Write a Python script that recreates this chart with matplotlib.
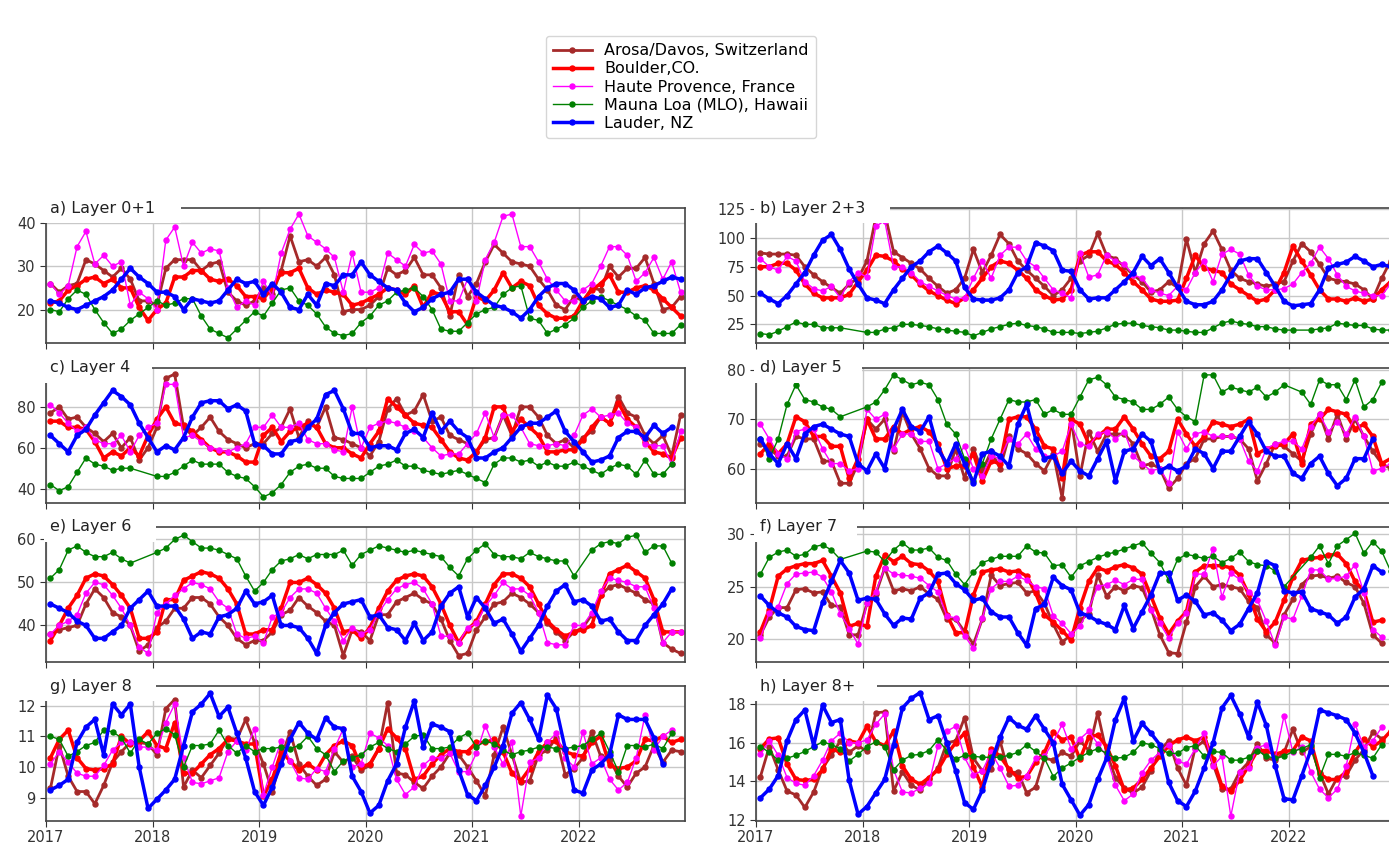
import numpy as np
import matplotlib.pyplot as plt
from matplotlib.patches import Rectangle

nan = np.nan

# monthly means, Jan 2017 .. Dec 2022, plotted at mid-month
months = np.arange(72)
dates = 2017 + (months + 0.5) / 12
years = [2017, 2018, 2019, 2020, 2021, 2022]

stations = ["Arosa/Davos, Switzerland", "Boulder,CO.", "Haute Provence, France",
            "Mauna Loa (MLO), Hawaii", "Lauder, NZ"]

# ---- a) Layer 0+1
arosa_a = [26, 24, 25.5, 26, 31.5, 30.5, 29, 27.5, 29.5, 27, 22, 22,
           21, 29.5, 31.5, 31.5, 31.5, 29, 30.5, 31, 24, 22, 21, 22,
           25, 23.5, 29, 37, 31, 31.5, 30, 32, 28, 19.5, 20, 20,
           21, 23, 29.5, 28, 29, 32, 28, 28, 25, 18.5, 28, 23,
           26, 31, 35, 33, 31, 30.5, 30, 27, 24.5, 21, 20, 23,
           22, 25, 24.5, 30, 27.5, 29.5, 29.5, 32, 26, 20, 20.5, 23]
boulder_a = [21.5, 22, 24.5, 25.5, 27, 27.5, 26, 27, 25, 25, 20.5, 17.5,
             20, 21.5, 27.5, 27.5, 29, 29, 27, 26.5, 27, 25.5, 23, 23,
             22.5, 25, 28.5, 28.5, 29.5, 25, 23.5, 24.5, 24, 23.5, 21, 21.5,
             22.5, 23.5, 25, 24.5, 23.5, 25.5, 20.5, 24, 23.5, 19.5, 19.5, 16.5,
             23, 22, 24.5, 28.5, 25, 26.5, 25.5, 21, 19, 18, 18, 18.5,
             22, 24.5, 26, 28, 24, 24, 25, 25.5, 24.5, 22.5, 20.5, 18.5]
haute_a = [26, 23.5, 25.5, 34.5, 38, 30.5, 32.5, 30, 31, 21, 24, 22.5,
           20, 36, 39, 30, 35.5, 33, 34, 33.5, 25, 20.5, 22, 21,
           26.5, 23, 33, 38.5, 42, 37, 35.5, 34, 32, 24, 33, 24,
           24, 25, 33, 31.5, 30, 35, 33, 33.5, 30.5, 22, 22, 27,
           22, 31.5, 35.5, 41.5, 42, 34.5, 34.5, 31, 27, 24.5, 22, 22,
           24.5, 26, 30, 34.5, 34.5, 32.5, 26.5, 28.5, 32, 27, 31, 24]
mlo_a = [20, 19.5, 22.5, 24.5, 23.5, 20, 17, 14.5, 15.5, 17.5, 19, 20.5,
         22, 21, 21.5, 22.5, 22.5, 18.5, 15.5, 14.5, 13.5, 15.5, 17.5, 19.5,
         18.5, 21.5, 24.5, 25, 22, 21, 19, 16, 14.5, 14, 14.5, 17,
         18.5, 21, 22, 24, 24.5, 25, 23, 20, 15.5, 15, 15, 17,
         19, 20, 20.5, 23.5, 25, 25.5, 18, 17.5, 14.5, 15.5, 16.5, 18,
         20.5, 22, 23, 22, 21, 20, 18.5, 17.5, 14.5, 14.5, 14.5, 16.5]
lauder_a = [22, 21.5, 20.5, 20, 21, 22, 23, 24.5, 27, 29.5, 27.5, 26,
            24, 24, 23, 20, 22.5, 22, 21.5, 22, 24.5, 27, 26, 26.5,
            23.5, 26, 24, 20.5, 20, 23.5, 21, 26, 25.5, 28, 28, 31,
            28, 26.5, 25, 24.5, 21.5, 19.5, 20.5, 22.5, 23.5, 24, 27, 27,
            24, 22.5, 21, 20.5, 19.5, 18, 20, 23, 25, 26, 26, 24.5,
            22, 23, 22.5, 20.5, 21, 24.5, 23.5, 25, 25.5, 26.5, 27.5, 27]

# ---- b) Layer 2+3
arosa_b = [87, 86, 86, 86, 85, 75, 68, 62, 57, 52, 60, 65,
           80, 118, 122, 88, 83, 78, 73, 65, 58, 52, 55, 65,
           90, 70, 85, 103, 95, 80, 72, 65, 58, 50, 55, 65,
           80, 85, 104, 85, 82, 75, 68, 62, 53, 55, 62, 57,
           99, 70, 95, 106, 90, 72, 65, 62, 60, 58, 60, 62,
           80, 95, 88, 77, 65, 63, 62, 60, 55, 47, 65, 80]
boulder_b = [75, 75, 78, 78, 72, 60, 52, 48, 48, 48, 51, 62,
             72, 85, 84, 80, 73, 68, 60, 54, 50, 46, 43, 48,
             55, 65, 75, 80, 78, 72, 65, 55, 50, 46, 47, 55,
             85, 88, 88, 80, 77, 70, 62, 55, 47, 45, 45, 46,
             65, 85, 74, 72, 70, 60, 55, 50, 45, 47, 55, 70,
             93, 80, 68, 55, 47, 47, 45, 48, 45, 47, 55, 62]
haute_b = [82, 75, 72, 84, 80, 62, 56, 54, 58, 48, 62, 70,
           66, 110, 115, 75, 75, 70, 62, 58, 54, 50, 47, 48,
           65, 80, 65, 85, 92, 92, 80, 75, 65, 55, 52, 48,
           87, 66, 68, 85, 80, 77, 68, 65, 55, 52, 50, 58,
           55, 70, 80, 62, 86, 90, 86, 68, 58, 55, 55, 56,
           60, 70, 78, 92, 82, 68, 58, 54, 52, 50, 50, 60]
mlo_b = [17, 16, 19, 23, 27, 25, 25, 22, 22, 22, nan, nan,
         18, 18, 21, 22, 25, 25, 24, 23, 21, 20, 19, 18,
         15, 18, 21, 23, 25, 26, 24, 23, 21, 18, 18, 18,
         17, 18, 19, 22, 25, 26, 26, 24, 23, 22, 20, 20,
         19, 18, 18, 22, 26, 28, 26, 25, 23, 23, 21, 20,
         20, nan, 20, 21, 22, 26, 25, 24, 24, 21, 20, 20]
lauder_b = [52, 47, 43, 50, 60, 70, 85, 98, 103, 90, 73, 60,
            48, 46, 43, 55, 65, 75, 80, 88, 93, 87, 80, 57,
            47, 46, 46, 48, 55, 70, 75, 96, 93, 89, 72, 71,
            55, 47, 48, 48, 55, 62, 70, 84, 76, 82, 70, 57,
            45, 42, 42, 45, 55, 68, 80, 82, 82, 70, 58, 45,
            41, 42, 43, 55, 74, 77, 79, 84, 80, 75, 77, 75]

# ---- c) Layer 4
arosa_c = [77, 80, 74, 75, 70, 67, 63, 67, 60, 65, 54, 60,
           70, 94, 96, 70, 66, 70, 75, 68, 64, 62, 60, 62,
           62, 67, 70, 79, 65, 73, 70, 80, 65, 64, 62, 60,
           56, 63, 79, 84, 76, 78, 86, 73, 75, 66, 64, 62,
           58, 64, 65, 76, 66, 80, 80, 75, 66, 62, 64, 60,
           65, 68, 75, 72, 85, 77, 75, 66, 62, 66, 56, 76]
boulder_c = [73, 73, 70, 70, 69, 63, 55, 58, 56, 60, 56, 66,
             74, 80, 72, 71, 68, 64, 60, 58, 58, 56, 53, 53,
             66, 70, 63, 68, 70, 72, 70, 62, 60, 60, 57, 55,
             62, 68, 84, 80, 76, 72, 71, 70, 64, 58, 55, 54,
             58, 65, 80, 80, 68, 74, 70, 66, 58, 58, 59, 59,
             64, 70, 75, 72, 82, 74, 70, 63, 58, 57, 55, 65]
haute_c = [81, 77, 72, 68, 70, 64, 62, 62, 66, 58, 66, 70,
           72, 91, 91, 65, 66, 63, 60, 59, 58, 60, 62, 70,
           70, 76, 70, 70, 72, 64, 62, 62, 59, 58, 80, 60,
           70, 72, 73, 72, 70, 68, 65, 60, 56, 57, 57, 62,
           67, 77, 65, 76, 76, 70, 62, 61, 61, 62, 61, 66,
           76, 79, 75, 76, 77, 72, 70, 62, 61, 61, 52, 68]
mlo_c = [42, 39, 41, 48, 55, 52, 51, 49, 50, 50, nan, nan,
         46, 46, 48, 51, 54, 52, 52, 52, 48, 46, 45, 41,
         36, 38, 42, 48, 51, 52, 50, 50, 46, 45, 45, 45,
         48, 51, 52, 54, 51, 51, 49, 48, 47, 48, 49, 47,
         45, 43, 52, 55, 55, 53, 54, 51, 53, 51, 51, 53,
         51, 49, 47, 50, 52, 51, 47, 54, 47, 47, 52, nan]
lauder_c = [66, 62, 58, 66, 69, 76, 82, 88, 85, 81, 72, 65,
            58, 61, 59, 65, 75, 82, 83, 83, 79, 81, 78, 62,
            61, 57, 57, 63, 64, 70, 74, 86, 88, 79, 67, 67,
            60, 61, 61, 59, 67, 69, 65, 77, 68, 73, 68, 65,
            55, 55, 58, 60, 65, 70, 72, 72, 75, 78, 68, 63,
            58, 53, 54, 56, 65, 68, 68, 65, 71, 67, 70, nan]

# ---- d) Layer 5
arosa_d = [65, 64, 62.5, 62.5, 66.5, 66, 66, 61.5, 61.5, 57, 57, 61,
           70, 68, 70, 63.5, 71.5, 67, 64, 60, 58.5, 58.5, 64, 58,
           64, 59.5, 63.5, 60, 66.5, 64, 63, 61, 59.5, 63, 54, 70,
           58.5, 67.5, 63.5, 67, 67, 67, 65, 60.5, 61, 60, 56, 58,
           61, 62, 66, 66, 66.5, 66.5, 66, 64, 57.5, 61, 65, 64.5,
           63, 61.5, 67, 71, 66, 71, 66, 70, 66.5, 63.5, 61, 60]
boulder_d = [63, 65, 63, 65, 70.5, 69.5, 66.5, 66.5, 64.5, 64.5, 58, 62,
             70, 66, 66, 68.5, 67, 68, 68.5, 67.5, 65, 60, 60.5, 60.5,
             63, 57.5, 61.5, 61, 70, 70.5, 70.5, 68, 64.5, 64, 58, 70,
             69, 65, 66.5, 68, 68, 70.5, 68, 65, 62.5, 62, 63.5, 70,
             67, 64.5, 66.5, 69.5, 69, 68.5, 69, 70, 63, 64, 64.5, 65,
             67, 61, 69, 70, 72, 71.5, 71, 68, 69, 66.5, 61, 62]
haute_d = [69, 66, 63, 62, 67.5, 68, 68, 64, 61, 61, 59.5, 60,
           72, 70, 71, 64, 67, 67, 65.5, 65.5, 60, 61, 62, 64.5,
           60, 58.5, 62.5, 62, 66, 65, 67, 64, 62.5, 62.5, 63.5, 69,
           65, 64.5, 67, 67.5, 66, 67.5, 62.5, 61, 59.5, 60, 57, 67.5,
           64, 67, 67.5, 66.5, 66.5, 66.5, 66, 61.5, 59.5, 64, 65, 65.5,
           65.5, 64, 68.5, 71, 67.5, 69.5, 67, 70.5, 66.5, 59.5, 60, 61]
mlo_d = [66, 62, 66, 73, 77, 74, 73.5, 72.5, 72, 70.5, nan, nan,
         72.5, 73.5, 76, 79, 78, 77, 77.5, 77, 74, 69, 67, 62,
         57.5, 61, 66, 70, 74, 73.5, 73.5, 74, 71, 72, 71, 71,
         74.5, 78, 78.5, 77, 74.5, 74, 73.5, 72, 72, 73, 74.5, 72,
         70.5, 69.5, 79, 79, 75.5, 76.5, 76, 75.5, 76.5, 74.5, 75.5, 77,
         nan, 75.5, 73, 78, 77, 77, 74, 78, 72.5, 74, 77.5, nan]
lauder_d = [66, 63, 61, 65, 62, 67, 68.5, 69, 68, 67, 66.5, 61,
            59.5, 63, 60, 68, 72, 68.5, 67.5, 70.5, 64, 61, 65, 61,
            57, 63, 63.5, 62.5, 60.5, 69, 73, 66, 62, 62.5, 59, 61.5,
            59.5, 58.5, 62, 65.5, 57.5, 63.5, 64, 67, 65.5, 59.5, 60.5, 59.5,
            60.5, 64, 63, 60, 63.5, 63.5, 66.5, 69.5, 67, 63.5, 62.5, 62.5,
            59, 58, 61, 62.5, 59, 56.5, 58, 62, 62, 66, nan, nan]

# ---- e) Layer 6
arosa_e = [38, 39, 39.5, 40, 45, 48.5, 46.5, 43, 42, 40, 34, 35.5,
           39.5, 41, 44, 44, 46.5, 46.5, 45, 42, 40, 37, 35.5, 36.5,
           36.5, 38.5, 42.5, 43.5, 46.5, 44.5, 43, 41, 40, 33, 39, 38.5,
           36.5, 42.5, 42.5, 45.5, 46.5, 47.5, 46, 45, 41.5, 36.5, 33, 33.5,
           39, 42, 45, 45.5, 47.5, 46.5, 45, 43, 40.5, 38.5, 36.5, 38.5,
           39.5, 42.5, 47, 49, 49.5, 48.5, 47.5, 46, 45, 36, 34.5, 33.5]
boulder_e = [36.5, 40, 44, 47, 51, 52, 51.5, 49.5, 47, 44, 37, 37,
             38.5, 46, 46, 50.5, 51.5, 52.5, 52, 51, 48.5, 45, 38, 38,
             39, 39, 44, 50, 50, 51, 49.5, 47.5, 44, 38.5, 39, 37,
             39.5, 44, 48, 50.5, 51.5, 52, 51.5, 49, 45, 40, 36, 39,
             41, 45, 49.5, 52, 52, 51, 49, 45, 41, 39, 37.5, 38.5,
             39, 40, 47, 52, 53, 54, 52.5, 51, 46, 38.5, 38.5, 38.5]
haute_e = [38, 40, 41, 42.5, 47.5, 50, 49.5, 47, 44, 40, 35, 33.5,
           43, 45, 47, 48.5, 50, 49.5, 48.5, 45.5, 44, 38, 37, 37.5,
           36, 42, 43, 46.5, 48.5, 48.5, 47.5, 44, 41, 36.5, 39.5, 38,
           39, 43, 46, 48.5, 49.5, 50, 48.5, 45, 37.5, 37.5, 36, 39.5,
           40.5, 44.5, 47, 50, 48.5, 48.5, 47, 43, 36, 35.5, 35.5, 40,
           40, 43, 48, 51, 50.5, 50, 49, 49, 44, 36, 38.5, 38.5]
mlo_e = [51, 53, 57.5, 58.5, 57, 56, 56, 57, 55.5, 54.5, nan, nan,
         57, 58, 60, 61, 59.5, 58, 58, 57.5, 56.5, 55.5, 51.5, 48,
         50, 53, 55, 55.5, 56.5, 55.5, 56.5, 56.5, 56.5, 57.5, 54, 56.5,
         57.5, 58.5, 58, 57.5, 57, 57.5, 57, 56.5, 56, 53.5, 51.5, 55.5,
         57.5, 59, 56.5, 56, 56, 55.5, 57, 56, 55.5, 55, 55, 51.5,
         nan, 57.5, 59, 59.5, 59, 60.5, 61, 57, 58.5, 58.5, 54.5, nan]
lauder_e = [45, 44, 43, 41, 40, 37, 37, 38.5, 40, 44, 46, 48,
            44.5, 44.5, 44.5, 41.5, 37, 38.5, 38, 42, 42.5, 44, 48, 45,
            45.5, 47, 40, 40, 39.5, 37, 33.5, 40, 43, 45, 45.5, 46,
            42, 42.5, 39.5, 39, 36.5, 40.5, 36.5, 38.5, 44.5, 47.5, 49, 42,
            46.5, 44, 40.5, 41.5, 38, 34, 37, 40, 44.5, 48, 49.5, 45.5,
            46, 44.5, 41, 41.5, 38.5, 36.5, 36.5, 40, 42.5, 45, 48.5, nan]

# ---- f) Layer 7
arosa_f = [20.4, 22.1, 23, 23, 24.7, 24.8, 24.4, 24.5, 23.2, 23.1, 20.4, 20.4,
           23.4, 24.3, 26.8, 24.6, 24.8, 24.6, 25, 24.3, 23.8, 21.9, 21.9, 20.7,
           19.5, 21.9, 26.1, 25.1, 25.3, 25.4, 24.4, 24.6, 23.4, 21.4, 19.7, 20.4,
           21.8, 22.4, 26.1, 24.1, 25, 24.6, 25.1, 24.9, 22.9, 20.4, 18.7, 18.6,
           21.6, 25, 26, 25, 25.2, 25, 24.8, 23.6, 23, 20.4, 19.6, 22.3,
           23.8, 25.2, 26, 26.1, 25.8, 26, 25.4, 25, 23.4, 20.4, 19.6, nan]
boulder_f = [20.7, 22.8, 26, 26.7, 27, 27.2, 27.2, 27.5, 26, 24.4, 21.2, 21.5,
             21.2, 26, 28, 27.4, 27.9, 27.2, 27.1, 26.5, 25.5, 22.3, 20.6, 20.6,
             24.2, 26.4, 26.6, 26.7, 26.4, 26.5, 26, 24.4, 22.3, 21.6, 20.8, 19.9,
             23, 25.5, 26.8, 26.5, 26.9, 27.1, 26.8, 26.2, 24.1, 22, 20.5, 21.7,
             22.6, 26.4, 27, 27, 27, 26.8, 26.1, 24.3, 21.9, 20.7, 21.6, 23.7,
             25.9, 27.5, 27.7, 27.8, 28, 28.1, 27.2, 25.5, 24.6, 21.6, 21.8, nan]
haute_f = [20.1, 22.5, 23.1, 25.3, 26.2, 26.3, 26.4, 25.9, 24.5, 22.4, 21, 19.5,
           23.4, 24.5, 26.8, 26.2, 26.1, 26, 25.8, 25.1, 24.5, 22.2, 22, 20.3,
           19.1, 22, 24.8, 25.5, 25.5, 26, 25.6, 25, 24.8, 22.2, 21.5, 20.5,
           21.2, 22.9, 25, 25.2, 25.6, 25.2, 25.7, 25.7, 22.8, 21.5, 20.1, 21.5,
           22.5, 26.2, 26.2, 28.6, 24, 26.3, 25.7, 24.5, 23.7, 21.7, 19.4, 22.1,
           21.9, 24.1, 26.6, 26.6, 25.7, 25.8, 26, 27.1, 24.4, 20.9, 20.2, nan]
mlo_f = [26.2, 27.8, 28.3, 28.5, 27.9, 28.1, 28.8, 29, 28.5, 27.6, nan, nan,
         28.4, 28.3, 27.4, 28.5, 29.2, 28.5, 28.5, 28.7, 27.8, 27.5, 26.2, 25.2,
         26.4, 27.3, 27.6, 27.9, 27.9, 27.9, 28.9, 28.3, 28.2, 27, 27.1, 25.9,
         27, 27.4, 27.8, 28.1, 28.3, 28.6, 28.9, 29.2, 28.2, 27.3, 25.6, 27.6,
         28.1, 27.9, 27.7, 27.9, 27.3, 27.7, 28.3, 27.4, 27.1, 27, 26.5, 25,
         nan, nan, 27.8, 28.9, 27.2, 28.9, 29.5, 30.1, 28.2, 29.3, 28.4, 26.5]
lauder_f = [24.1, 23.2, 22.5, 22.1, 21.2, 20.9, 20.8, 23.5, 25.5, 27.5, 26.3, 23.7,
            23.9, 23.8, 22.4, 21.3, 22, 21.9, 23.9, 24.4, 26.2, 26.3, 25.3, 24.7,
            23.7, 23.9, 22.6, 22.1, 22.1, 20.6, 19.4, 22.9, 23.3, 25.9, 25.1, 24.7,
            22.5, 22.2, 21.7, 21.4, 20.9, 23.2, 21, 22.6, 24.2, 26.3, 26.3, 23.7,
            24.2, 23.6, 22.3, 22.5, 21.8, 20.8, 21.4, 22.9, 24.4, 27.4, 27, 24.6,
            24.4, 24.5, 22.9, 22.6, 22.3, 21.5, 22.1, 24, 24.8, 27, 26.4, nan]

# ---- g) Layer 8
arosa_g = [9.3, 10.7, 9.7, 9.2, 9.2, 8.8, 9.4, 10.15, 10.5, 10.8, 10.8, 10.75,
           10.4, 11.9, 12.2, 9.35, 9.9, 9.65, 10.05, 10.45, 10.95, 10.9, 11.55, 10.8,
           10.1, 9.2, 10.3, 11.15, 10.1, 9.7, 9.4, 9.6, 10.5, 10.15, 10.35, 9.9,
           10.05, 10.6, 12.1, 9.8, 9.75, 9.5, 9.3, 9.7, 10, 10.45, 10.4, 10,
           9.55, 9.05, 10.4, 11.3, 10.4, 9.5, 9.55, 10.4, 10.55, 10.95, 9.75, 9.95,
           10.3, 11.15, 10.35, 10.25, 9.7, 9.35, 9.8, 10, 10.7, 10.15, 10.55, 10.5]
boulder_g = [10.3, 10.9, 11.2, 10.3, 9.95, 9.9, 9.95, 10.1, 11, 10.75, 10.85, 11.15,
             10.7, 10.6, 11.45, 9.8, 9.8, 10.1, 10.4, 10.6, 10.9, 10.85, 10.75, 10.75,
             9.05, 9.6, 10.5, 10.2, 9.9, 10.1, 9.9, 10.4, 10.7, 10.85, 10.7, 10,
             10.1, 10.6, 11.25, 10.95, 10.6, 9.6, 9.7, 10.1, 10.4, 10.6, 10.5, 10.5,
             10.8, 10.8, 10.9, 10.5, 9.8, 9.55, 9.95, 10.5, 10.8, 10.85, 10.5, 10.4,
             10.35, 10.8, 11, 10.05, 9.95, 10, 10.2, 10.9, 10.85, 11, 10.8, 10.9]
haute_g = [10.1, 10.5, 10.15, 9.8, 9.7, 9.7, 10.05, 10.55, 10.8, 10.8, 10.65, 10.65,
           10.55, 11.45, 12.05, 10.3, 9.5, 9.45, 9.55, 9.65, 10.5, 10.85, 10.55, 11.25,
           9.1, 10, 10.85, 10.2, 9.65, 9.6, 9.95, 9.85, 10.6, 11.25, 10, 10.1,
           11.1, 10.95, 10.7, 9.6, 9.1, 9.35, 10.05, 10.3, 10.3, 10.45, 9.85, 9.85,
           10.45, 11.35, 10.65, 10.1, 10.8, 8.4, 10.15, 10.3, 10.8, 11.1, 10.3, 10,
           11.15, 10.1, 10.3, 9.6, 9.25, 9.5, 10.3, 11.7, 10.55, 11, 11.2, nan]
mlo_g = [11, 10.9, 10.35, 10.5, 10.7, 10.8, 11.2, 11.15, 10.95, 10.45, 10.9, 10.75,
         11.1, 11.25, 11.05, 10, 10.7, 10.7, 10.75, 11.2, 10.7, 10.45, 10.7, 10.5,
         10.6, 10.6, 10.65, 10.6, 10.7, 11, 10.6, 10.4, 9.85, 10.2, 10.3, 10.4,
         10.65, 10.8, 10.6, 10.5, 10.75, 11, 11.05, 10.6, 10.6, 10.65, 10.95, 11.1,
         10.65, 10.85, 10.75, 10.55, 10.4, 10.5, 10.55, 10.65, 10.65, 10.6, 10.6, 10.65,
         10.7, 10.9, 11.1, 10.5, 9.85, 10.7, 10.7, 10.65, 10.75, 10.6, 11.1, nan]
lauder_g = [9.25, 9.4, 9.6, 10.8, 11.3, 11.55, 10.4, 12.05, 11.7, 12.05, 10, 8.65,
            8.95, 9.25, 9.6, 10.7, 11.8, 12.05, 12.4, 11.65, 11.95, 11.1, 10.3, 9.2,
            8.75, 9.35, 10.1, 10.9, 11.45, 11.1, 10.9, 11.6, 11.3, 11.25, 9.7, 9.2,
            8.5, 8.75, 9.55, 10.1, 11.3, 12.15, 10.65, 11.4, 11.3, 11.15, 9.9, 9.1,
            8.9, 9.4, 10, 10.7, 11.75, 12.1, 11.55, 10.9, 12.35, 11.9, 10.6, 9.25,
            9.15, 9.9, 10.1, 10.4, 11.7, 11.55, 11.55, 11.55, 10.95, 10.1, nan, nan]

# ---- h) Layer 8+
arosa_h = [14.25, 15.8, 14.6, 13.5, 13.3, 12.65, 13.45, 14.7, 15.35, 16.1, 15.5, 15.85,
           15.55, 17.55, 17.6, 13.5, 14.5, 13.8, 13.55, 14.1, 14.7, 16, 16.1, 17.3,
           15.2, 14.55, 14.65, 16.1, 14.4, 14.5, 13.4, 13.7, 15.2, 15.1, 15.5, 15.3,
           16.1, 15.6, 17.55, 15.5, 14.2, 13.65, 13.4, 13.7, 14.55, 15.6, 16.1, 14.7,
           13.8, 15.75, 16.1, 14.9, 13.6, 13.6, 14.5, 15, 15.95, 15.2, 15.1, 15.5,
           16.7, 15.5, 15.8, 14.45, 13.35, 14.2, 14.3, 15.1, 15.65, 16.55, 16.2, nan]
boulder_h = [15.7, 16.2, 16.25, 14.9, 14.1, 14.05, 14.1, 14.6, 15.7, 15.5, 16.1, 16,
             16.85, 16.05, 15.85, 16.6, 14.8, 14.1, 13.85, 14.2, 14.6, 15.4, 16, 16.5,
             14.75, 13.7, 15.7, 15.3, 14.65, 14.2, 14.25, 15, 15.5, 16.55, 16.15, 16.3,
             15.15, 16.3, 16.4, 15.8, 14.8, 13.55, 13.65, 14.1, 14.7, 15.3, 15.85, 16.15,
             16.3, 16.1, 16.3, 15.15, 13.75, 13.5, 14.05, 14.8, 15.6, 15.6, 15.4, 15.55,
             15.6, 16.3, 16.1, 14.4, 14.1, 14.1, 14.5, 15.5, 16.2, 15.8, 16.1, 16.6]
haute_h = [15.4, 16.1, 15.35, 14.2, 13.9, 13.8, 14.3, 15.1, 16.1, 16.5, 16, 16,
           16.15, 16.95, 17.5, 14.6, 13.45, 13.4, 13.65, 13.9, 15.85, 16.6, 16.85, 15.25,
           14.35, 14.55, 15.5, 14.7, 13.75, 13.8, 14.3, 15.2, 15.3, 16.05, 16.95, 15.7,
           16.2, 16.6, 15.95, 15.3, 13.8, 13, 13.35, 14.45, 15.1, 15.5, 15.9, 15.05,
           14.9, 15.7, 16.5, 14.8, 15.3, 12.2, 14.5, 14.7, 15.75, 15.9, 15.2, 17.4,
           15.5, 15.8, 14.5, 13.6, 13.15, 13.6, 14.8, 16.95, 15.8, 16.1, 16.8, nan]
mlo_h = [15.8, 15.5, 15.1, 15.2, 15.35, 15.55, 15.8, 16.05, 15.9, 15.7, 15.05, 15.4,
         15.8, 16.05, 15.8, 14.6, 15.1, 15.35, 15.4, 15.6, 16.15, 15.6, 15.15, 15.35,
         15.3, 15.25, 15.25, 15.25, 15.35, 15.5, 15.9, 15.55, 15.2, 14.25, 14.7, 14.95,
         15.25, 15.5, 15.7, 15.45, 15.2, 15.25, 15.5, 16, 15.9, 15.7, 15.45, 15.45,
         15.75, 15.85, 15.3, 15.55, 15.5, 15.1, 15.1, 15.25, 15.6, 15.3, 15.2, 15.3,
         15.55, 15.7, 15.9, 14.2, 15.4, 15.4, 15.3, 15.5, 15.35, 15.2, 15.9, nan]
lauder_h = [13.15, 13.6, 14.3, 16.1, 17.2, 17.7, 15.85, 17.95, 17.05, 17.2, 14.05, 12.3,
            12.7, 13.4, 14.1, 15.9, 17.8, 18.3, 18.6, 17.2, 17.4, 16, 14.55, 12.9,
            12.55, 13.55, 15, 16.3, 17.3, 16.9, 16.7, 17.4, 16.7, 16, 13.85, 13.05,
            12.25, 12.8, 14.1, 15.2, 17.2, 18.3, 16.1, 17, 16.5, 15.9, 13.95, 13,
            12.7, 13.5, 14.7, 16, 17.8, 18.45, 17.5, 16.3, 18.1, 16.9, 14.8, 13.1,
            13.05, 14.3, 15.6, 17.7, 17.55, 17.4, 17.2, 16.5, 15.5, 14.3, nan, nan]

panels = [
    ("a) Layer 0+1", [arosa_a, boulder_a, haute_a, mlo_a, lauder_a], (12.3, 43.4), [20, 30, 40]),
    ("b) Layer 2+3", [arosa_b, boulder_b, haute_b, mlo_b, lauder_b], (8.8, 126), [25, 50, 75, 100, 125]),
    ("c) Layer 4", [arosa_c, boulder_c, haute_c, mlo_c, lauder_c], (33, 99), [40, 60, 80]),
    ("d) Layer 5", [arosa_d, boulder_d, haute_d, mlo_d, lauder_d], (53, 80.4), [60, 70, 80]),
    ("e) Layer 6", [arosa_e, boulder_e, haute_e, mlo_e, lauder_e], (31.5, 62.9), [40, 50, 60]),
    ("f) Layer 7", [arosa_f, boulder_f, haute_f, mlo_f, lauder_f], (17.8, 30.7), [20, 25, 30]),
    ("g) Layer 8", [arosa_g, boulder_g, haute_g, mlo_g, lauder_g], (8.24, 12.64), [9, 10, 11, 12]),
    ("h) Layer 8+", [arosa_h, boulder_h, haute_h, mlo_h, lauder_h], (11.95, 18.94), [12, 14, 16, 18]),
]

# white label patch behind each panel title (pixels to the right of the y axis)
title_gap = [135, 134, 106, 106, 110, 101, 110, 121]

# line style per station: colour, line width
styles = [("brown", 2.0), ("red", 2.5), ("magenta", 1.0), ("green", 1.0), ("blue", 2.5)]

fig = plt.figure(figsize=(13.89, 8.43), dpi=100)

col_left = [46 / 1389, 756 / 1389]
ax_wpx, ax_hpx = 639, 135
ax_w = ax_wpx / 1389
ax_h = ax_hpx / 843
row_top = [208, 368, 527, 686]

handles = []
for i, (title, series, ylim, yticks) in enumerate(panels):
    row, col = divmod(i, 2)
    bottom = 1 - (row_top[row] + ax_hpx) / 843
    ax = fig.add_axes([col_left[col], bottom, ax_w, ax_h])

    for (color, lw), vals, name in zip(styles, series, stations):
        y = np.array(vals, dtype=float)
        ok = ~np.isnan(y)
        line, = ax.plot(dates[ok], y[ok], color=color, lw=lw, marker="o", ms=3.6, label=name)
        if i == 0:
            handles.append(line)

    ax.set_xlim(2017, 2023)
    ax.set_ylim(*ylim)
    ax.set_xticks(years)
    ax.set_yticks(yticks)
    if row == 3:
        ax.set_xticklabels([str(y) for y in years])
    else:
        ax.set_xticklabels([])
    ax.grid(True, color="#c8c8c8", lw=1)
    ax.set_axisbelow(True)
    ax.tick_params(labelsize=10.5, colors="#333333", length=4)
    ax.tick_params(axis="x", pad=2.5)
    for sp in ax.spines.values():
        sp.set_color("#444444")
        sp.set_linewidth(1.2)

    # title sits on the top spine, blanking the frame underneath
    ax.add_patch(Rectangle((-2 / ax_wpx, 1 - 15 / ax_hpx), (title_gap[i] + 2) / ax_wpx, 28 / ax_hpx,
                           transform=ax.transAxes, facecolor="white", edgecolor="none",
                           clip_on=False, zorder=9))
    ax.text(4 / ax_wpx, 1.0, title, transform=ax.transAxes, ha="left", va="center",
            fontsize=11.5, color="#222222", zorder=10)

fig.legend(handles=handles, loc="upper center", bbox_to_anchor=(681 / 1389, 1 - 36 / 843),
           fontsize=11.5, frameon=True, borderpad=0.45, labelspacing=0.2,
           handlelength=2.4, handletextpad=0.8, borderaxespad=0)

fig.savefig("out.png", dpi=100)
